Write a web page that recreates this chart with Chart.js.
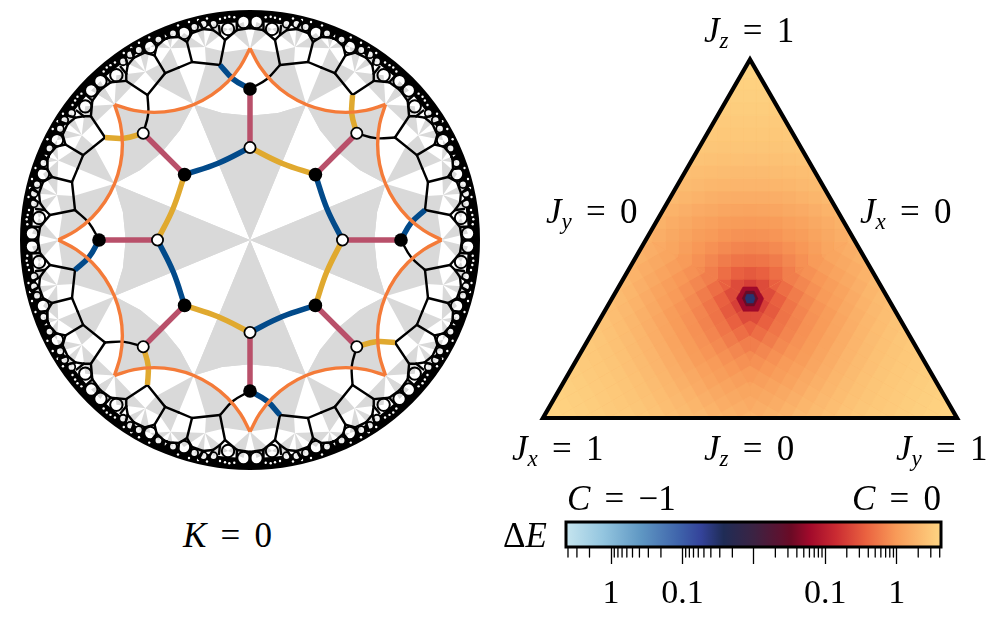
<!DOCTYPE html>
<html>
<head>
<meta charset="utf-8">
<script src="https://cdn.jsdelivr.net/npm/chart.js@4/dist/chart.umd.min.js"></script>
<style>
  body { margin: 0; background: #fff; width: 1000px; height: 619px; overflow: hidden; position: relative; }
  canvas { position: absolute; }
  .lbl { position: absolute; font-family: "Liberation Serif", serif; font-size: 35px; line-height: 34px; white-space: nowrap; color: #000; word-spacing: 5.5px; }
  .lbl sub { font-size: 23px; line-height: 0; vertical-align: -6px; font-style: italic; }
</style>
</head>
<body>
<canvas id="disk" width="500" height="500" style="left:0;top:0"></canvas>
<canvas id="tri" width="500" height="440" style="left:500px;top:0"></canvas>
<canvas id="bar" width="430" height="104" style="left:540px;top:515px"></canvas>

<div class="lbl" style="left:183px;top:519px"><i>K</i> = 0</div>
<div class="lbl" style="left:704px;top:14px"><i>J<sub>z</sub></i> = 1</div>
<div class="lbl" style="left:546px;top:195px"><i>J<sub>y</sub></i> = 0</div>
<div class="lbl" style="left:860px;top:195px"><i>J<sub>x</sub></i> = 0</div>
<div class="lbl" style="left:512px;top:432px"><i>J<sub>x</sub></i> = 1</div>
<div class="lbl" style="left:704px;top:432px"><i>J<sub>z</sub></i> = 0</div>
<div class="lbl" style="left:896px;top:432px"><i>J<sub>y</sub></i> = 1</div>
<div class="lbl" style="left:567px;top:482px"><i>C</i> = −1</div>
<div class="lbl" style="left:852px;top:482px"><i>C</i> = 0</div>
<div class="lbl" style="left:503px;top:519px">Δ<i>E</i></div>

<script>
const latticeEdges = [
  [[0, 151], [17, 161], [30, 175]],
  [[30, 175], [25, 200]],
  [[30, 175], [58, 178]],
  [[25, 200], [13, 210]],
  [[13, 210], [0, 212]],
  [[0, 212], [0, 220]],
  [[25, 200], [30, 205]],
  [[30, 205], [37, 210]],
  [[37, 210], [47, 211]],
  [[47, 211], [58, 207]],
  [[58, 207], [63, 198]],
  [[63, 198], [58, 178]],
  [[63, 198], [71, 203]],
  [[71, 203], [81, 202.5]],
  [[81, 202.5], [83.5, 201.7]],
  [[58, 178], [71.4, 172.4]],
  [[13, 210], [13.5, 220]],
  [[30, 205], [31, 214]],
  [[37, 210], [41.5, 218]],
  [[47, 211], [51, 219]],
  [[58, 207], [61, 215]],
  [[71, 203], [72, 212]],
  [[81, 202.5], [86, 209]]
];
const bigCells = [[6.5, 218], [22, 211], [66, 207]];
const midCells = [[36.5, 216], [46.5, 216], [55.7, 213], [77, 206.5]];
const smallCells = [[84, 204]];
const tinyCells = [[15.7, 222.7], [20.7, 223.3], [25, 222.3], [30, 221], [43, 221.5], [52, 220], [61, 218], [72, 214.5]];

const spoke = [[0, 92.5], [0, 151]];
const octagonEdge = [[0, 92.5], [31.8, 76.8], [65.4, 65.4]];
const octagonColors = ['#e0a92f', '#024a8a'];
const outerEdge = [[0, 151], [-17, 161], [-30, 175]];
const outerColors = ['#024a8a', '#e0a92f'];
const innerVertex = [0, 92.5];
const outerVertex = [0, 151];
const arcHalf = [[0, 191.6], [9.6, 173.7], [22.5, 158], [38.2, 145.1], [56.2, 135.5], [75.6, 129.6], [95.8, 127.6], [116, 129.6], [135.5, 135.5]];

// gray triangles between cell centres, slice 0..45 degrees
const grayInner = [
  [[0, 0], [56.1, 135.5], [28, 127.1], [0, 124.3], [-28, 127.1], [-56.1, 135.5]],
  [[56.2, 135.5], [75.6, 129.6], [95.8, 127.6], [116, 129.6], [135.5, 135.5], [129.6, 116], [127.6, 95.8], [129.6, 75.6], [135.5, 56.2], [109.7, 70.1], [87.9, 87.9], [70.1, 109.7]],
  [[0, 191.6], [9.6, 173.7], [22.5, 158], [38.2, 145.1], [56.2, 135.5], [44, 176.5], [45, 193], [24, 188]],
  [[56.2, 135.5], [93.7, 155.9], [104.7, 168.2], [90.2, 175.7], [79.4, 191.8]]
];
const grayOuter = [
  [[0, 191.6], [22, 211], [6.5, 218]],
  [[45, 193], [22, 211], [36.5, 216]],
  [[45, 193], [46.5, 216], [55.7, 213]],
  [[45, 193], [79.4, 191.8], [66, 207]],
  [[79.4, 191.8], [77, 206.5], [84, 204]]
];
const grayOuterFlipped = [
  [[0, 191.6], [45, 193], [22, 211]],
  [[0, 191.6], [6.5, 218], [-6.5, 218]],
  [[45, 193], [55.7, 213], [66, 207]],
  [[45, 193], [36.5, 216], [46.5, 216]],
  [[79.4, 191.8], [66, 207], [77, 206.5]]
];

// ---- right panel, units are triangle sides, measured from the centre of the triangle
const triangleCorners = [[-0.5, -0.2887], [0, 0.5774], [0.5, -0.2887]];
const kiteCorners = [[0, 0], [0.25, 0.1443], [0, 0.5774], [-0.25, 0.1443]];
const cellWidth = 0.0314;
const cellHeight = 0.03043;
const firstRowEdge = 0.0162;
// estimated gap per cell of the upper sector: rows go outward, columns from the axis sideways
const gapRows = [
  [0.2, 0.25, 0.36],
  [0.32, 0.36, 0.46, 0.6, 0.75],
  [0.5, 0.52, 0.58, 0.7, 0.84, 1.0],
  [0.66, 0.68, 0.74, 0.84, 0.95, 1.1, 1.3, 1.45],
  [0.84, 0.85, 0.9, 1.0, 1.08, 1.25, 1.4, 1.6, 1.8],
  [1.0, 1.02, 1.05, 1.15, 1.25, 1.4, 1.55, 1.75, 1.95],
  [1.25, 1.27, 1.32, 1.4, 1.5, 1.65, 1.8, 1.95, 2.15],
  [1.55, 1.57, 1.6, 1.68, 1.8, 1.95, 2.1, 2.25],
  [1.9, 1.92, 1.95, 2.0, 2.1, 2.2, 2.3],
  [2.2, 2.22, 2.25, 2.3, 2.35, 2.45, 2.6],
  [2.5, 2.52, 2.55, 2.6, 2.7, 2.8],
  [2.8, 2.8, 2.82, 2.88, 2.92, 3.0],
  [3.0, 3.0, 3.02, 3.08, 3.12],
  [3.2, 3.2, 3.22, 3.25],
  [3.4, 3.4, 3.42, 3.45],
  [3.6, 3.6, 3.62],
  [3.8, 3.8, 3.85],
  [4.0, 4.0],
  [4.3]
];
// dark core around the critical point (negative gap = C=-1 side)
const coreGaps = [0.06, 0.03, -0.035];
const coreShapes = [
  [[-0.033, 0], [-0.017, 0.028], [0.017, 0.028], [0.033, 0], [0.02, -0.031], [-0.017, -0.031]],
  [[-0.019, 0], [-0.01, 0.018], [0.01, 0.018], [0.019, 0], [0.01, -0.018], [-0.01, -0.018]],
  [[-0.012, 0], [-0.008, 0.01], [0.008, 0.01], [0.012, 0], [0.008, -0.011], [-0.008, -0.011]]
];

// ---- colour bar, axis is signed decades around 0.01
const barStops = [0, 0.1, 0.2, 0.3, 0.36, 0.42, 0.5, 0.57, 0.6, 0.65, 0.72, 0.8, 0.88, 1];
const barColors = ['#c6e5ef', '#93c5df', '#5f97c3', '#3f64ab', '#34439a', '#1f2c56', '#3b2343', '#5c1230', '#6b0a25', '#a10a2b', '#ca2b32', '#ea6240', '#f89a58', '#fed583'];
const barMin = -2.63;
const barMax = 2.62;
const majorTicks = [-1, -0.1, 0.01, 0.1, 1];
const majorLabels = ['1', '0.1', '', '0.1', '1'];
const minorTicks = [-4, -3, -2, -0.9, -0.8, -0.7, -0.6, -0.5, -0.4, -0.3, -0.2, -0.09, -0.08, -0.07, -0.06, -0.05, -0.04, -0.03, -0.02,
  0.02, 0.03, 0.04, 0.05, 0.06, 0.07, 0.08, 0.09, 0.2, 0.3, 0.4, 0.5, 0.6, 0.7, 0.8, 0.9, 2, 3, 4];

// helpers
const symlog = v => Math.sign(v) * (Math.log10(Math.abs(v)) + 2);
const toPts = pts => pts.map(p => ({ x: p[0], y: p[1] }));
function rot(p, deg) {
  const a = deg * Math.PI / 180, c = Math.cos(a), s = Math.sin(a);
  return [p[0] * c + p[1] * s, -p[0] * s + p[1] * c];
}
const flipX = p => [-p[0], p[1]];
const flip22 = p => [0.7071 * (p[1] - p[0]), 0.7071 * (p[0] + p[1])];
function copies8(pts) {
  const out = [];
  for (let k = 0; k < 4; k++) {
    out.push(pts.map(p => rot(p, k * 90)));
    out.push(pts.map(p => rot(flipX(p), k * 90)));
  }
  return out;
}
function copies16(pts) {
  const out = [];
  for (let k = 0; k < 8; k++) {
    out.push(pts.map(p => rot(p, k * 45)));
    out.push(pts.map(p => rot(flipX(p), k * 45)));
  }
  return out;
}
function line(pts, color, width, extra) {
  return Object.assign({
    data: toPts(pts), borderColor: color, borderWidth: width, pointRadius: 0,
    borderCapStyle: 'round', borderJoinStyle: 'round', fill: false, tension: 0
  }, extra || {});
}
function shape(pts, color, extra) {
  return Object.assign({
    data: toPts(pts), borderColor: color, borderWidth: 0, backgroundColor: color,
    pointRadius: 0, fill: 'shape', tension: 0
  }, extra || {});
}
function dots(pts, radius, fillColor, edgeColor, edgeWidth) {
  return {
    data: toPts(pts), showLine: false, pointRadius: radius, pointBackgroundColor: fillColor,
    pointBorderColor: edgeColor, pointBorderWidth: edgeWidth, clip: false
  };
}
function allCells(list) {
  const out = [];
  list.forEach(c => copies16([c]).forEach(q => out.push(q[0])));
  return out;
}
function makeChart(id, datasets, xMin, xMax, yMin, yMax) {
  datasets.forEach((d, i) => { d.order = -i; }); // later datasets paint on top
  return new Chart(document.getElementById(id), {
    type: 'line',
    data: { datasets },
    options: {
      responsive: false, animation: false, events: [],
      layout: { padding: 0, autoPadding: false },
      plugins: { legend: { display: false }, tooltip: { enabled: false } },
      scales: {
        x: { type: 'linear', display: false, min: xMin, max: xMax },
        y: { type: 'linear', display: false, min: yMin, max: yMax }
      }
    }
  });
}

// ---- disk
const diskSets = [];
diskSets.push(dots([[0, 0]], 224, 'transparent', '#000', 12));
const big = allCells(bigCells), mid = allCells(midCells), small = allCells(smallCells), tiny = allCells(tinyCells);
diskSets.push(dots(big, 6.2, '#fff', '#000', 0));
diskSets.push(dots(mid, 3.8, '#f2f2f2', '#000', 0));
diskSets.push(dots(small, 3, '#f2f2f2', '#000', 0));
diskSets.push(dots(tiny, 1.2, '#fff', '#000', 0));
grayInner.concat(grayOuter, grayOuterFlipped.map(t => t.map(flip22))).forEach(t => {
  copies8(t).forEach(c => diskSets.push(shape(c, '#d9d9d9')));
});
latticeEdges.forEach(e => {
  copies16(e).forEach(c => diskSets.push(line(c, '#000', 2.4, { tension: e.length > 2 ? 0.4 : 0 })));
});
diskSets.push(dots(big, 6.2, 'transparent', '#000', 2));
diskSets.push(dots(mid, 3.8, 'transparent', '#000', 1.8));
diskSets.push(dots(small, 3, 'transparent', '#000', 1.6));
for (let k = 0; k < 8; k++) {
  diskSets.push(line(spoke.map(p => rot(p, k * 45)), '#b9506a', 5.5, { borderCapStyle: 'butt' }));
  diskSets.push(line(octagonEdge.map(p => rot(p, k * 45)), octagonColors[k % 2], 5.5, { borderCapStyle: 'butt', tension: 0.4 }));
  diskSets.push(line(outerEdge.map(p => rot(p, k * 45)), outerColors[k % 2], 5.5, { borderCapStyle: 'butt', tension: 0.4 }));
}
for (let k = 0; k < 8; k++) {
  diskSets.push(line(arcHalf.map(p => rot(p, k * 45)), '#f47b39', 3.4, { tension: 0.4, borderCapStyle: 'butt' }));
}
const whiteVerts = [], blackVerts = [];
for (let k = 0; k < 8; k++) {
  (k % 2 ? blackVerts : whiteVerts).push(rot(innerVertex, k * 45));
  (k % 2 ? whiteVerts : blackVerts).push(rot(outerVertex, k * 45));
}
diskSets.push(dots(blackVerts, 6.8, '#000', '#000', 0));
diskSets.push(dots(whiteVerts, 5.6, '#fff', '#000', 1.8));
makeChart('disk', diskSets, -250, 250, -260, 240);

// ---- colormap shared by triangle and bar
function hexToRgb(h) { return [1, 3, 5].map(i => parseInt(h.substr(i, 2), 16)); }
function gapColor(gap) {
  const f = Math.min(1, Math.max(0, (symlog(gap) - barMin) / (barMax - barMin)));
  let i = 0;
  while (i < barStops.length - 2 && f > barStops[i + 1]) i++;
  const t = (f - barStops[i]) / (barStops[i + 1] - barStops[i]);
  const a = hexToRgb(barColors[i]), b = hexToRgb(barColors[i + 1]);
  const c = a.map((v, n) => Math.round(v + (b[n] - v) * t));
  return `rgb(${c[0]},${c[1]},${c[2]})`;
}

// ---- triangle
function clipToKite(poly) {
  let out = poly;
  for (let i = 0; i < kiteCorners.length; i++) {
    const a = kiteCorners[i], b = kiteCorners[(i + 1) % kiteCorners.length];
    const side = p => (b[0] - a[0]) * (p[1] - a[1]) - (b[1] - a[1]) * (p[0] - a[0]);
    const next = [];
    out.forEach((p, n) => {
      const q = out[(n + 1) % out.length], sp = side(p), sq = side(q);
      if (sp >= 0) next.push(p);
      if ((sp >= 0) !== (sq >= 0)) {
        const t = sp / (sp - sq);
        next.push([p[0] + (q[0] - p[0]) * t, p[1] + (q[1] - p[1]) * t]);
      }
    });
    out = next;
    if (!out.length) break;
  }
  return out;
}
const triSets = [];
triSets.push(shape(triangleCorners, gapColor(1.2)));
gapRows.forEach((row, r) => {
  const y0 = firstRowEdge + r * cellHeight, y1 = y0 + cellHeight;
  row.forEach((gap, j) => {
    (j === 0 ? [0] : [j, -j]).forEach(col => {
      const x0 = (col - 0.5) * cellWidth, x1 = (col + 0.5) * cellWidth;
      const cell = clipToKite([[x0, y0], [x1, y0], [x1, y1], [x0, y1]]);
      if (cell.length < 3) return;
      const color = gapColor(gap);
      [0, 120, 240].forEach(deg => {
        triSets.push(shape(cell.map(p => rot(p, deg)), color, { borderWidth: 0.8 }));
      });
    });
  });
});
coreShapes.forEach((s, i) => triSets.push(shape(s, gapColor(coreGaps[i]), { borderWidth: 0.5 })));
triSets.push(line(triangleCorners.concat([triangleCorners[0], triangleCorners[1]]), '#000', 4.2, { borderJoinStyle: 'miter', borderCapStyle: 'butt' }));
// canvas starts at x=500, triangle centre is at 750,298.5 and one side is 414 px
makeChart('tri', triSets, -250 / 414, 250 / 414, -(440 - 298.5) / 414, 298.5 / 414);

// ---- colour bar
const barSets = [];
barSets.push(shape([[barMin, 0], [barMax, 0], [barMax, 1], [barMin, 1]], '#000', {
  backgroundColor: ctx => {
    const area = ctx.chart.chartArea;
    if (!area) return barColors[0];
    const g = ctx.chart.ctx.createLinearGradient(area.left, 0, area.right, 0);
    barStops.forEach((s, i) => g.addColorStop(s, barColors[i]));
    return g;
  }
}));
minorTicks.forEach(v => {
  barSets.push(line([[symlog(v), 0], [symlog(v), -0.4]], '#000', 1.3, { clip: false, borderCapStyle: 'butt' }));
});
barSets.push(line([[barMin, 0], [barMax, 0], [barMax, 1], [barMin, 1], [barMin, 0], [barMax, 0]], '#000', 3, { clip: false, borderJoinStyle: 'miter', borderCapStyle: 'butt' }));
barSets.forEach((d, i) => { d.order = -i; });
new Chart(document.getElementById('bar'), {
  type: 'line',
  data: { datasets: barSets },
  options: {
    responsive: false, animation: false, events: [],
    layout: { padding: { left: 26, right: 29, top: 7, bottom: 0 }, autoPadding: false },
    plugins: { legend: { display: false }, tooltip: { enabled: false } },
    scales: {
      y: { type: 'linear', display: false, min: 0, max: 1 },
      x: {
        type: 'linear', min: barMin, max: barMax,
        afterBuildTicks: s => { s.ticks = majorTicks.map(v => ({ value: symlog(v) })); },
        afterFit: s => { s.height = 72; },
        border: { display: false },
        grid: { drawOnChartArea: false, drawTicks: true, tickLength: 17, tickWidth: 1.3, tickColor: '#000' },
        ticks: {
          autoSkip: false, maxRotation: 0, padding: 10, color: '#000',
          font: { family: '"Liberation Serif", serif', size: 34 },
          callback: (v, i) => majorLabels[i]
        }
      }
    }
  }
});
</script>
</body>
</html>
